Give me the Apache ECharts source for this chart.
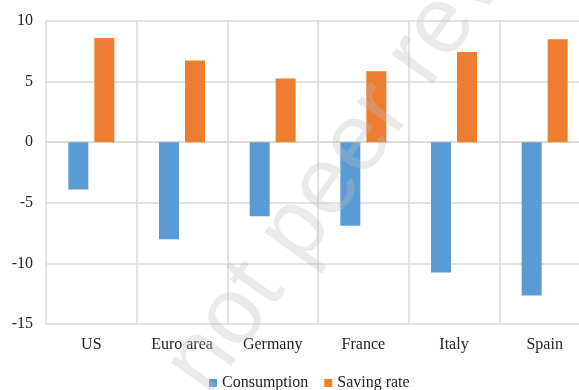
<!DOCTYPE html>
<html>
<head>
<meta charset="utf-8">
<script src="https://cdn.jsdelivr.net/npm/echarts@6/dist/echarts.min.js"></script>
<style>
  html, body { margin: 0; padding: 0; background: #fff; }
  #chart { width: 579px; height: 390px; }
</style>
</head>
<body>
<div id="chart"></div>
<script>
// data
const categories = ['US', 'Euro area', 'Germany', 'France', 'Italy', 'Spain'];
const consumption = [-3.9, -8.0, -6.1, -6.9, -10.75, -12.65];
const savingRate = [8.6, 6.75, 5.25, 5.85, 7.45, 8.5];
const yTicks = { min: -15, max: 10, step: 5 };

const FONT = '"Liberation Serif", "Times New Roman", serif';

const chart = echarts.init(document.getElementById('chart'), null, { renderer: 'canvas' });

chart.setOption({
  animation: false,
  backgroundColor: '#fff',
  // plot runs past the right edge of the picture (original is cropped)
  grid: { left: 46, right: -11, top: 21, bottom: 66, containLabel: false, outerBoundsMode: 'none' },
  legend: {
    left: 204, top: 370,
    itemWidth: 8, itemHeight: 8, itemGap: 16,
    icon: 'rect',
    textStyle: { fontFamily: FONT, fontSize: 16, color: '#222' },
    data: ['Consumption', 'Saving rate']
  },
  xAxis: {
    type: 'category',
    data: categories,
    axisLine: { show: true, lineStyle: { color: '#d9d9d9', width: 1.5 } },
    axisTick: { show: false },
    splitLine: { show: true, lineStyle: { color: '#d9d9d9', width: 1.5 } },
    axisLabel: { fontFamily: FONT, fontSize: 16, color: '#222', margin: 13, interval: 0 }
  },
  yAxis: {
    type: 'value',
    min: yTicks.min, max: yTicks.max, interval: yTicks.step,
    axisLine: { show: false },
    axisTick: { show: false },
    splitLine: { lineStyle: { color: '#d9d9d9', width: 1.5 } },
    axisLabel: { fontFamily: FONT, fontSize: 16, color: '#222', margin: 13 }
  },
  series: [
    {
      name: 'Consumption', type: 'bar', data: consumption,
      barWidth: 20, barGap: '30%',
      itemStyle: { color: '#5b9bd5' }
    },
    {
      name: 'Saving rate', type: 'bar', data: savingRate,
      barWidth: 20,
      itemStyle: { color: '#ed7d31' }
    }
  ],
  // faint diagonal watermark
  graphic: [{
    type: 'text',
    x: 226, y: 410,
    rotation: 0.95,
    z: 100,
    style: {
      text: 'not peer reviewed',
      font: '96px "Liberation Sans", sans-serif',
      fill: 'rgba(190,190,190,0.32)',
      textVerticalAlign: 'bottom'
    }
  }]
});
</script>
</body>
</html>
